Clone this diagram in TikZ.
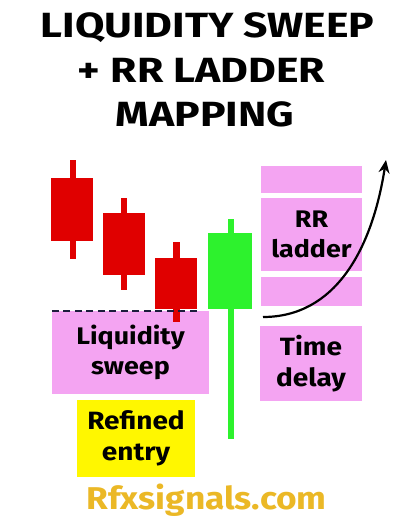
\documentclass[tikz,border=0pt]{standalone}
\usepackage{fontspec}
\setmainfont{Fira Sans}
\newfontfamily\titlefont[FakeStretch=1.22]{Fira Sans}
\newfontfamily\labelfont[FakeStretch=1.12]{Fira Sans}
\usetikzlibrary{arrows.meta}
\definecolor{boxpink}{HTML}{F4A4F2}
\definecolor{candred}{HTML}{E00000}
\definecolor{candgreen}{HTML}{2DF22D}
\definecolor{entryyellow}{HTML}{FFF700}
\definecolor{brandgold}{HTML}{EBB826}
\definecolor{dashnavy}{HTML}{1C1C3C}
\tikzset{
  pinkbox/.style={fill=boxpink, draw=none, inner sep=0pt, align=center, font=\labelfont\bfseries\fontsize{24}{30}\selectfont},
  yellowbox/.style={fill=entryyellow, draw=none, inner sep=0pt, align=center, font=\labelfont\bfseries\fontsize{25}{31}\selectfont},
  titletext/.style={font=\titlefont\bfseries\fontsize{35}{35}\selectfont, inner sep=0pt, anchor=base},
  redbody/.style={fill=candred, draw=none, inner sep=0pt},
  greenbody/.style={fill=candgreen, draw=none, inner sep=0pt},
}
\begin{document}
\begin{tikzpicture}[x=1pt,y=-1pt]
\useasboundingbox[fill=white] (0,0) rectangle (416,520);
% title
\node[titletext] (t1) at (207.5,37) {LIQUIDITY SWEEP};
\node[titletext] (t2) at (201.5,82) {+ RR LADDER};
\node[titletext] (t3) at (205,126) {MAPPING};
% red candles
\fill[candred] (70,160) rectangle (76,259);
\node[redbody, minimum width=42pt, minimum height=63pt] (c1) at (72,209.5) {};
\fill[candred] (121,198) rectangle (127,290);
\node[redbody, minimum width=42pt, minimum height=62pt] (c2) at (124,244) {};
% liquidity sweep box
\node[pinkbox, minimum width=157pt, minimum height=83pt] (liq) at (130.5,352) {Liquidity\\sweep};
\fill[candred] (173,242) rectangle (180,322);
\node[redbody, minimum width=42pt, minimum height=51pt] (c3) at (176,283.5) {};
\draw[dashnavy, line width=1.6pt, dash pattern=on 7pt off 4.5pt] ([yshift=-0.5pt]liq.north west) -- ([xshift=-9pt,yshift=-0.5pt]liq.north east);
% green candle
\fill[candgreen] (228,219) rectangle (234,439);
\node[greenbody, minimum width=44pt, minimum height=76pt] (g1) at (230,271) {};
% refined entry
\node[yellowbox, minimum width=118pt, minimum height=77pt] (ref) at (136,438.5) {Refined\\entry};
% right column
\node[pinkbox, minimum width=101pt, minimum height=27pt] (ra) at (311.5,179.5) {};
\node[pinkbox, minimum width=101pt, minimum height=73pt] (rb) at (311.5,234.5) {RR\\ladder};
\node[pinkbox, minimum width=101pt, minimum height=29pt] (rc) at (311.5,291.5) {};
\node[pinkbox, minimum width=102pt, minimum height=75pt, font=\labelfont\bfseries\fontsize{25}{31}\selectfont] (rd) at (311,363.5) {Time\\delay};
% arrow
\coordinate (as) at (263,317);
\coordinate (ae) at (386,160);
\draw[line width=2.2pt, -{Stealth[length=13pt,width=11pt]}] (as) .. controls (335,317) and (372,250) .. (ae);
% footer
\node[font=\labelfont\bfseries\fontsize{31.5}{32}\selectfont, text=brandgold, inner sep=0pt, anchor=base] (brand) at (206.5,509) {Rfxsignals.com};
\end{tikzpicture}
\end{document}
